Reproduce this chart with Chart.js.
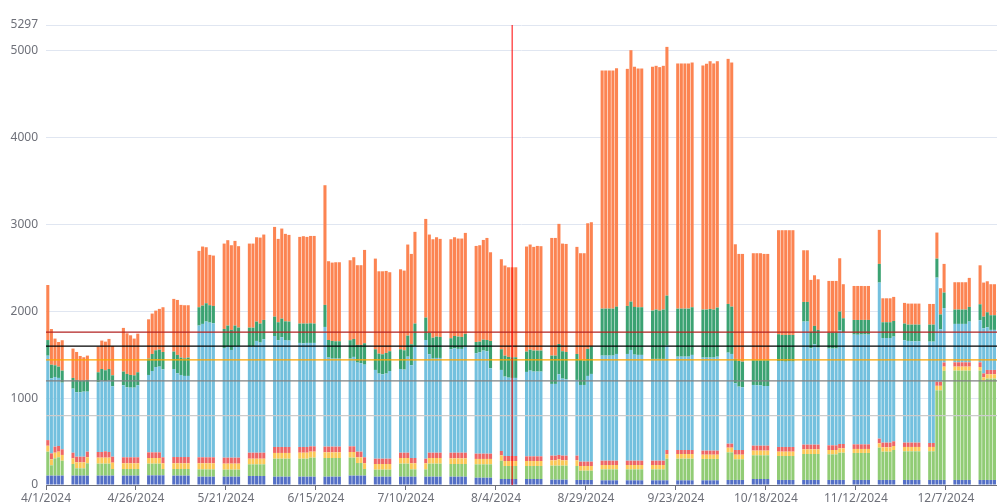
<!DOCTYPE html>
<html>
<head>
<meta charset="utf-8">
<script src="https://cdn.jsdelivr.net/npm/chart.js@4.4.1/dist/chart.umd.min.js"></script>
<style>
  html, body { margin: 0; padding: 0; background: #fff; }
</style>
</head>
<body>
<canvas id="chart" width="997" height="503"></canvas>
<script>
// ============================================================
// DATA (one entry per weekday, 2024)
// ============================================================
const dates = [
  '4/1','4/2','4/3','4/4','4/5', '4/8','4/9','4/10','4/11','4/12', '4/15','4/16','4/17','4/18','4/19',
  '4/22','4/23','4/24','4/25','4/26', '4/29','4/30','5/1','5/2','5/3', '5/6','5/7','5/8','5/9','5/10',
  '5/13','5/14','5/15','5/16','5/17', '5/20','5/21','5/22','5/23','5/24', '5/27','5/28','5/29','5/30','5/31',
  '6/3','6/4','6/5','6/6','6/7', '6/10','6/11','6/12','6/13','6/14', '6/17','6/18','6/19','6/20','6/21',
  '6/24','6/25','6/26','6/27','6/28', '7/1','7/2','7/3','7/4','7/5', '7/8','7/9','7/10','7/11','7/12',
  '7/15','7/16','7/17','7/18','7/19', '7/22','7/23','7/24','7/25','7/26', '7/29','7/30','7/31','8/1','8/2',
  '8/5','8/6','8/7','8/8','8/9', '8/12','8/13','8/14','8/15','8/16', '8/19','8/20','8/21','8/22','8/23',
  '8/26','8/27','8/28','8/29','8/30', '9/2','9/3','9/4','9/5','9/6', '9/9','9/10','9/11','9/12','9/13',
  '9/16','9/17','9/18','9/19','9/20', '9/23','9/24','9/25','9/26','9/27', '9/30','10/1','10/2','10/3','10/4',
  '10/7','10/8','10/9','10/10','10/11', '10/14','10/15','10/16','10/17','10/18', '10/21','10/22','10/23','10/24','10/25',
  '10/28','10/29','10/30','10/31','11/1', '11/4','11/5','11/6','11/7','11/8', '11/11','11/12','11/13','11/14','11/15',
  '11/18','11/19','11/20','11/21','11/22', '11/25','11/26','11/27','11/28','11/29', '12/2','12/3','12/4','12/5','12/6',
  '12/9','12/10','12/11','12/12','12/13', '12/16','12/17','12/18','12/19','12/20'
];

const serieA = [
  108,108,108,108,108, 108,108,108,108,108, 108,108,108,108,108, 108,108,108,108,108, 111,111,111,111,111,
  108,108,108,108,108, 96,96,96,96,96, 96,96,96,96,96, 104,104,104,104,104, 96,96,96,96,96,
  96,96,96,96,96, 96,96,96,96,96, 108,108,108,108,108, 96,96,96,96,96, 96,96,96,96,96,
  96,96,96,96,96, 96,96,96,96,96, 84,84,84,84,84, 69,69,69,69,69, 69,69,69,69,69,
  61,61,61,61,61, 58,58,58,58,58, 54,54,54,54,54, 54,54,54,54,54, 54,54,54,54,54,
  54,54,54,54,54, 54,54,54,54,54, 58,58,58,58,58, 69,69,69,69,69, 58,58,58,58,58,
  58,58,58,58,58, 58,58,58,58,58, 58,58,58,58,58, 58,58,58,58,58, 58,58,58,58,58,
  58,58,58,58,58, 58,58,58,58,58, 58,58,58,58,58
];
const serieB = [
  276,119,199,211,172, 134,84,84,84,142, 138,138,138,138,76, 76,76,76,76,76, 135,135,135,135,73,
  76,76,76,76,76, 84,84,84,84,84, 81,81,81,81,81, 134,134,134,134,134, 207,207,207,207,207,
  207,207,207,219,219, 215,215,215,215,215, 207,207,145,145,76, 81,81,81,81,81, 150,150,150,84,84,
  84,150,150,150,150, 146,146,146,146,146, 154,154,154,154,154, 211,150,150,150,150, 150,150,150,150,150,
  162,162,162,162,162, 161,107,107,107,107, 126,126,126,126,126, 126,126,126,126,126, 126,126,126,126,249,
  249,249,249,249,249, 246,246,246,246,246, 318,318,238,238,238, 273,273,273,273,273, 276,276,276,276,276,
  299,299,299,299,299, 295,295,295,314,314, 311,311,311,311,311, 372,326,326,326,345, 330,330,330,330,330,
  330,330,1032,1032,1257, 1259,1259,1259,1259,1259, 1259,1137,1167,1167,1167
];
const serieC = [
  68,68,65,65,66, 65,69,69,69,69, 69,69,69,69,73, 66,66,66,66,66, 65,65,65,65,66,
  66,66,66,66,66, 70,70,70,70,70, 69,69,69,69,69, 65,65,65,65,65, 66,66,66,66,66,
  69,69,69,69,69, 65,65,65,65,65, 65,65,66,66,66, 65,65,65,65,65, 65,65,65,70,70,
  70,65,65,65,65, 65,65,65,65,65, 62,62,62,62,62, 62,57,57,57,57, 57,57,57,57,57,
  61,61,73,61,61, 65,54,54,54,54, 50,50,50,50,50, 50,50,50,50,50, 50,50,50,50,50,
  54,54,54,54,54, 49,49,49,49,49, 54,54,53,53,53, 54,54,54,54,54, 50,50,50,50,50,
  54,54,54,54,54, 50,50,50,50,50, 46,46,46,46,46, 50,50,50,50,46, 50,50,50,50,50,
  50,50,52,52,48, 46,46,46,46,46, 42,45,50,50,50
];
const serieD = [
  65,69,70,65,65, 65,65,65,65,65, 65,65,73,65,69, 69,69,69,69,69, 65,65,65,65,69,
  72,72,72,72,72, 69,69,69,69,69, 69,69,69,69,69, 69,69,69,69,69, 69,69,69,69,69,
  66,66,66,61,61, 66,66,66,66,66, 65,65,65,65,69, 61,61,61,61,61, 61,61,61,61,61,
  53,61,61,61,61, 65,65,65,65,65, 61,61,61,61,61, 50,58,58,58,58, 54,54,54,54,54,
  54,54,50,54,54, 54,50,50,50,50, 50,50,50,50,50, 50,50,50,50,50, 50,50,50,50,50,
  46,46,46,46,46, 47,47,47,47,47, 46,46,54,54,54, 57,57,57,57,57, 54,54,54,54,54,
  54,54,54,54,54, 54,54,54,50,50, 53,53,53,53,53, 54,54,54,54,54, 50,50,50,50,50,
  46,46,48,48,48, 50,50,50,50,50, 54,45,50,50,50
];
const serieE = [
  972,864,802,784,768, 738,742,742,749,691, 803,822,806,822,811, 829,806,802,802,829, 891,937,983,987,1013,
  1014,964,945,934,934, 1517,1536,1563,1551,1543, 1263,1279,1240,1279,1279, 1222,1222,1287,1268,1306, 1278,1229,1263,1232,1225,
  1198,1194,1198,1191,1191, 1378,1025,1013,1013,1013, 1010,1030,1025,1018,1067, 1022,980,972,980,1010, 964,957,1106,1068,1286,
  1367,1133,1083,1091,1091, 1191,1202,1195,1195,1222, 1156,1167,1187,1179,983, 933,914,902,899,899, 972,987,976,976,976,
  826,826,929,887,879, 872,883,883,987,1010, 1210,1210,1210,1210,1229, 1229,1275,1221,1218,1218, 1172,1172,1172,1172,1202,
  1075,1075,1075,1075,1095, 1071,1071,1071,1071,1082, 1048,1033,768,730,722, 699,695,695,687,687, 990,990,982,990,983,
  1417,1417,1109,1155,1117, 1114,1114,1114,1310,1283, 1264,1262,1264,1265,1264, 1797,1205,1205,1205,1206, 1179,1171,1167,1167,1167,
  1167,1167,1198,603,626, 442,442,442,442,469, 484,520,491,461,461
];
const serieF = [
  180,157,135,130,138, 123,142,130,127,135, 115,134,127,134,126, 158,154,146,142,150, 188,196,192,196,200,
  200,212,200,203,211, 211,211,211,200,200, 219,242,231,242,219, 218,218,223,219,223, 223,207,215,215,219,
  223,227,223,226,223, 254,203,204,200,200, 212,207,204,211,246, 238,230,230,238,227, 227,222,242,241,262,
  258,250,242,246,242, 127,142,142,138,146, 130,123,126,130,315, 238,242,239,238,238, 234,242,242,242,242,
  326,326,349,315,315, 299,288,280,311,315, 541,541,541,541,545, 553,557,550,549,549, 556,568,556,568,576,
  553,553,553,553,549, 553,553,560,553,565, 561,545,281,295,295, 284,288,288,296,296, 308,300,308,300,307,
  226,226,192,212,204, 184,184,184,215,165, 169,170,169,168,169, 215,181,181,181,180, 192,188,192,192,192,
  196,196,219,171,179, 165,165,165,165,169, 184,134,173,169,169
];
const serieG = [
  634,411,307,284,350, 338,322,288,269,280, 296,327,330,346,338, 503,468,457,423,445, 453,465,457,469,515,
  607,633,607,611,603, 649,680,645,580,580, 983,983,975,975,937, 968,968,971,990,983, 1033,960,1037,1007,998,
  998,1006,998,1006,1009, 1378,907,902,910,910, 921,941,918,918,1075, 1044,948,956,944,910, 921,918,1049,1041,1056,
  1136,1129,1133,1144,1129, 1140,1137,1129,1133,1163, 1106,1110,1148,1175,1021, 1037,1037,1032,1036,1036, 1210,1210,1194,1205,1202,
  1355,1355,1383,1240,1244, 1233,1229,1237,1447,1432, 2742,2742,2742,2742,2746, 2730,2895,2764,2749,2749, 2807,2807,2804,2807,2864,
  2823,2823,2823,2823,2818, 2811,2830,2853,2834,2837, 2822,2811,1320,1233,1241, 1233,1233,1233,1225,1225, 1198,1206,1206,1206,1206,
  595,595,596,583,583, 595,595,595,614,392, 391,392,391,390,391, 392,276,276,276,277, 238,242,242,242,242,
  238,238,300,302,330, 315,315,315,315,334, 449,392,357,357,357
];

const yTicks = [0, 1000, 2000, 3000, 4000, 5000, 5297];
const xTickLabels = ['4/1/2024', '4/26/2024', '5/21/2024', '6/15/2024', '7/10/2024', '8/4/2024',
  '8/29/2024', '9/23/2024', '10/18/2024', '11/12/2024', '12/7/2024'];
const refValues = [1760, 1600, 1440, 1200, 800];
const refDate = '8/8';

// ============================================================
// CHART
// ============================================================
const palette = ['#5470c6', '#91cc75', '#fac858', '#ee6666', '#73c0de', '#3ba272', '#fc8452'];
const refColors = ['#b22222', '#000000', '#ffa500', '#808080', '#cccccc'];

function dayIndex(s) {
    const parts = s.split('/').map(Number);
    return (Date.UTC(parts[2] || 2024, parts[0] - 1, parts[1]) - Date.UTC(2024, 3, 1)) / 864e5;
}

function toPoints(values) {
    // bars sit at midday of their date
    return values.map((v, i) => ({ x: dayIndex(dates[i]) + 0.5, y: v }));
}

const refLinesPlugin = {
    id: 'refLines',
    afterDatasetsDraw(chart) {
        const { ctx, chartArea, scales } = chart;
        ctx.save();
        ctx.lineWidth = 1.3;
        refValues.forEach((v, i) => {
            const y = scales.y.getPixelForValue(v);
            ctx.strokeStyle = refColors[i];
            ctx.beginPath();
            ctx.moveTo(chartArea.left, y);
            ctx.lineTo(chartArea.right, y);
            ctx.stroke();
        });
        const x = scales.x.getPixelForValue(dayIndex(refDate) + 0.5);
        ctx.strokeStyle = '#ff0000';
        ctx.lineWidth = 1;
        ctx.beginPath();
        ctx.moveTo(x, chartArea.top);
        ctx.lineTo(x, chartArea.bottom);
        ctx.stroke();
        ctx.restore();
    }
};

Chart.defaults.font.family = "'Noto Sans', sans-serif";
Chart.defaults.font.size = 12;
Chart.defaults.color = '#6e7079';

const series = [serieA, serieB, serieC, serieD, serieE, serieF, serieG];

new Chart(document.getElementById('chart').getContext('2d'), {
    type: 'bar',
    data: {
        datasets: series.map((s, i) => ({
            label: 'S' + (i + 1),
            data: toPoints(s),
            backgroundColor: palette[i],
            borderWidth: 0,
            barPercentage: 0.85,
            categoryPercentage: 1
        }))
    },
    options: {
        responsive: false,
        animation: false,
        devicePixelRatio: 1,
        layout: { padding: { top: 25, right: 0, left: 0, bottom: 0 } },
        plugins: { legend: { display: false }, tooltip: { enabled: false } },
        scales: {
            x: {
                type: 'linear',
                stacked: true,
                offset: false,
                min: 0,
                max: 264.2,
                afterBuildTicks: scale => { scale.ticks = xTickLabels.map(l => ({ value: dayIndex(l) })); },
                afterFit: scale => { scale.height = 18; },
                ticks: {
                    autoSkip: false,
                    maxRotation: 0,
                    padding: 1,
                    color: '#6e7079',
                    callback: (v, i) => xTickLabels[i]
                },
                grid: { offset: false, drawOnChartArea: false, drawTicks: true, tickLength: 5, tickColor: '#6e7079' },
                border: { display: true, color: '#6e7079' }
            },
            y: {
                stacked: true,
                min: 0,
                max: 5297,
                afterBuildTicks: scale => { scale.ticks = yTicks.map(v => ({ value: v })); },
                afterFit: scale => { scale.width = 46; },
                ticks: { padding: 8, color: '#6e7079', callback: v => String(v) },
                grid: { color: '#e0e6f1', drawTicks: false },
                border: { display: false }
            }
        }
    },
    plugins: [refLinesPlugin]
});
</script>
</body>
</html>
